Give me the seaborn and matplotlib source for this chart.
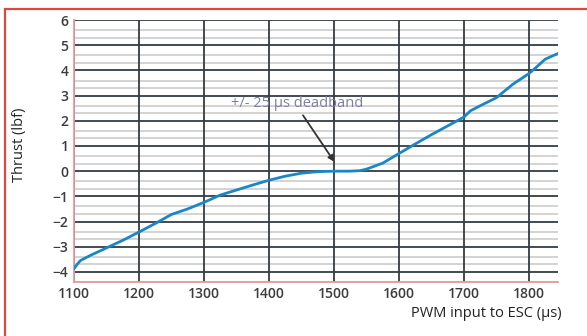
import numpy as np
import pandas as pd
import matplotlib
matplotlib.use('Agg')
import matplotlib.pyplot as plt
import seaborn as sns
from matplotlib.patches import Rectangle

# thrust curve
pwm = [1100, 1105, 1110, 1125, 1150, 1175, 1200, 1225, 1250, 1275, 1300, 1325, 1350,
       1375, 1400, 1425, 1450, 1475, 1500, 1525, 1540, 1550, 1575, 1600, 1625, 1650,
       1675, 1700, 1710, 1725, 1750, 1775, 1800, 1810, 1825, 1845]
thrust = [-3.88, -3.7, -3.55, -3.35, -3.05, -2.75, -2.42, -2.08, -1.72, -1.5, -1.24, -0.95, -0.75,
          -0.55, -0.36, -0.2, -0.08, -0.02, 0.0, 0.0, 0.02, 0.08, 0.32, 0.7, 1.08, 1.45,
          1.8, 2.15, 2.4, 2.6, 2.92, 3.45, 3.88, 4.1, 4.45, 4.68]
x_ticks = [1100, 1200, 1300, 1400, 1500, 1600, 1700, 1800]
y_ticks = [-4, -3, -2, -1, 0, 1, 2, 3, 4, 5, 6]

df = pd.DataFrame({'pwm': pwm, 'thrust': thrust})

sns.set_style('white')
plt.rcParams['font.family'] = ['Open Sans', 'DejaVu Sans']

fig = plt.figure(figsize=(5.87, 3.36), dpi=100)
ax = fig.add_axes([0.126, 0.161, 0.825, 0.779])

# light minor grid (two per unit) then dark major grid
for base in range(-5, 6):
    for frac in (0.3, 0.6):
        ax.axhline(base + frac, color='#d0d0d0', lw=1.3, zorder=0)
ax.set_xticks(x_ticks)
ax.set_yticks(y_ticks)
ax.grid(True, color='#353c44', lw=1.3, zorder=1)

sns.lineplot(data=df, x='pwm', y='thrust', color='#1b86c6', lw=2.0, ax=ax, zorder=3)

ax.set_xlim(1100, 1845)
ax.set_ylim(-4.4, 6)
ax.set_yticklabels(['\u22124', '\u22123', '\u22122', '\u22121', '0', '1', '2', '3', '4', '5', '6'])
ax.tick_params(axis='both', length=0, labelsize=10, labelcolor='#3c3c3c', pad=4)
for lab in ax.get_xticklabels() + ax.get_yticklabels():
    lab.set_fontweight('semibold')

for s in ['top', 'right']:
    ax.spines[s].set_visible(False)
for s in ['left', 'bottom']:
    ax.spines[s].set_color('#e89a9a')
    ax.spines[s].set_linewidth(1.3)

ax.set_xlabel('')
ax.set_ylabel('')
fig.text(0.956, 0.068, 'PWM input to ESC (\u00b5s)', ha='right', va='center',
         fontsize=10.5, color='#222222')
fig.text(0.034, 0.57, 'Thrust (lbf)', rotation=90, ha='center', va='center',
         fontsize=10.5, color='#222222')

ax.annotate('', xy=(1503, 0.28), xytext=(1450, 2.31),
            arrowprops=dict(arrowstyle='-|>', color='#333333', lw=1.3, mutation_scale=9),
            zorder=4)
ax.text(1443, 2.67, '+/- 25 \u00b5s deadband', ha='center', va='center',
        fontsize=10.5, color='#7d80a3', zorder=4)

# red frame around the figure
fig.patches.append(Rectangle((5 / 587, -0.05), 1.1, 1 - 9 / 336 + 0.05,
                             transform=fig.transFigure, fill=False,
                             edgecolor='#e0463a', lw=1.6))

fig.savefig('out.png', dpi=100)
